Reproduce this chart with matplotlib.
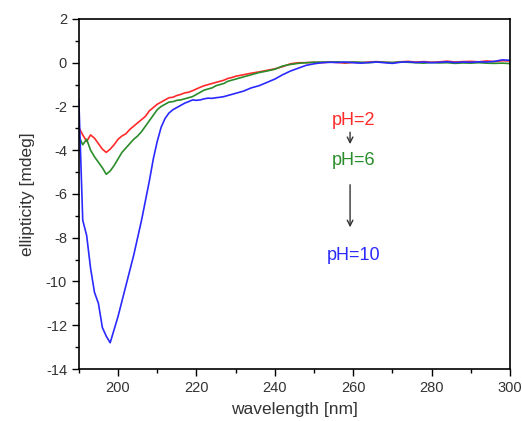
import matplotlib
matplotlib.use("Agg")
import matplotlib.pyplot as plt
from matplotlib.ticker import MultipleLocator

plt.rcParams['font.family'] = ['Liberation Sans', 'DejaVu Sans']
plt.rcParams['axes.unicode_minus'] = False

# wavelength grid [nm]
wavelength = list(range(190, 231)) + list(range(232, 302, 2))

# ellipticity [mdeg]
ph2 = [-2.95, -3.3, -3.6, -3.3, -3.45, -3.7, -3.95, -4.1, -3.95, -3.75,
       -3.5, -3.35, -3.25, -3.05, -2.9, -2.75, -2.6, -2.45, -2.2, -2.05,
       -1.9, -1.8, -1.7, -1.6, -1.58, -1.5, -1.45, -1.38, -1.35, -1.28,
       -1.2, -1.12, -1.05, -1.0, -0.95, -0.9, -0.85, -0.8, -0.72, -0.68,
       -0.62,
       -0.55, -0.48, -0.42, -0.35, -0.28, -0.18, -0.05, 0.0, 0.0, 0.02,
       0.0, 0.03, 0.01, -0.02, 0.02, 0.0, 0.03, 0.05, 0.02, 0.0,
       0.04, 0.06, 0.03, 0.05, 0.02, 0.04, 0.07, 0.03, 0.05, 0.06,
       0.04, 0.08, 0.05, 0.09, 0.08]

ph6 = [-3.35, -3.75, -3.5, -4.0, -4.3, -4.55, -4.8, -5.1, -4.95, -4.7,
       -4.4, -4.1, -3.9, -3.7, -3.5, -3.35, -3.15, -2.9, -2.65, -2.4,
       -2.15, -2.0, -1.9, -1.8, -1.78, -1.72, -1.7, -1.65, -1.6, -1.55,
       -1.45, -1.35, -1.25, -1.2, -1.15, -1.05, -1.0, -0.95, -0.85, -0.8,
       -0.75,
       -0.65, -0.55, -0.45, -0.38, -0.3, -0.15, -0.08, -0.03, 0.0, 0.02,
       0.03, 0.02, 0.04, 0.01, 0.03, 0.02, 0.0, 0.03, 0.02, 0.01,
       0.03, 0.02, 0.0, -0.02, 0.01, -0.01, 0.0, -0.03, -0.01, -0.02,
       0.0, -0.02, -0.03, -0.02, -0.04]

ph10 = [-1.7, -7.2, -7.9, -9.4, -10.5, -11.0, -12.1, -12.5, -12.8, -12.2,
        -11.6, -10.9, -10.2, -9.5, -8.8, -8.0, -7.2, -6.3, -5.4, -4.4,
        -3.6, -2.95, -2.55, -2.3, -2.15, -2.05, -1.95, -1.85, -1.78, -1.7,
        -1.72, -1.7, -1.65, -1.62, -1.63, -1.6, -1.58, -1.55, -1.5, -1.45,
        -1.4,
        -1.3, -1.15, -1.05, -0.9, -0.75, -0.55, -0.38, -0.25, -0.12, -0.05,
        0.0, 0.02, 0.01, 0.03, 0.0, -0.02, 0.01, 0.03, 0.0, -0.03,
        0.02, 0.04, 0.01, 0.03, 0.0, 0.02, 0.04, 0.01, 0.03, 0.02,
        0.04, 0.03, 0.06, 0.13, 0.11]

labels = ["pH=2", "pH=6", "pH=10"]
colors = ["#ff2a2a", "#2a8c2a", "#2a2aff"]
label_y = [-2.65, -4.45, -8.8]

fig = plt.figure(figsize=(5.22, 4.21), dpi=100)
ax = fig.add_axes([0.151, 0.1235, 0.826, 0.8315])

for y, c in zip([ph2, ph6, ph10], colors):
    ax.plot(wavelength, y, color=c, lw=1.2)

ax.set_xlim(190, 300)
ax.set_ylim(-14, 2)
ax.xaxis.set_major_locator(MultipleLocator(20))
ax.xaxis.set_minor_locator(MultipleLocator(10))
ax.yaxis.set_major_locator(MultipleLocator(2))
ax.yaxis.set_minor_locator(MultipleLocator(1))
ax.tick_params(which='major', direction='out', length=5, width=1,
               labelsize=10.5, labelcolor='#333333')
ax.tick_params(which='minor', direction='out', length=3, width=1)
for s in ax.spines.values():
    s.set_linewidth(1.2)

ax.set_xlabel("wavelength [nm]", fontsize=12.5, color='#333333', labelpad=5)
ax.set_ylabel("ellipticity [mdeg]", fontsize=12.5, color='#333333', labelpad=8)

for t, c, yy in zip(labels, colors, label_y):
    ax.text(260.2, yy, t, color=c, fontsize=13, ha='center', va='center')

ax.annotate("", xy=(259.2, -3.85), xytext=(259.2, -3.05),
            arrowprops=dict(arrowstyle='->', color='#333333', lw=1))
ax.annotate("", xy=(259.2, -7.65), xytext=(259.2, -5.45),
            arrowprops=dict(arrowstyle='->', color='#333333', lw=1))

fig.savefig("out.png", dpi=100)
